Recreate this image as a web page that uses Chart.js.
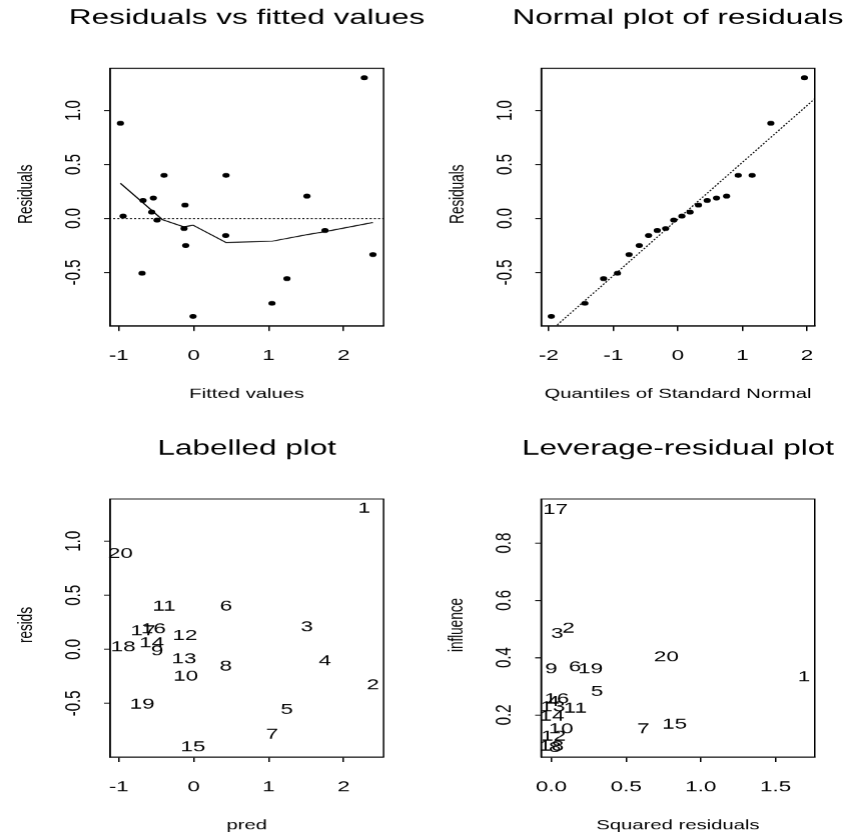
<!DOCTYPE html>
<html>
<head>
<meta charset="utf-8">
<script src="https://cdn.jsdelivr.net/npm/chart.js@4.4.1/dist/chart.umd.min.js"></script>
<style>
html,body{margin:0;padding:0;background:#fff;}
#wrap{position:relative;width:845px;height:836px;overflow:hidden;background:#fff;}
#wrap canvas{position:absolute;left:0;top:0;}
</style>
</head>
<body>
<div id="wrap">
<canvas id="c1" width="563" height="836" style="width:845px;height:836px"></canvas>
<canvas id="c2" width="563" height="836" style="width:845px;height:836px"></canvas>
<canvas id="c3" width="563" height="836" style="width:845px;height:836px"></canvas>
<canvas id="c4" width="563" height="836" style="width:845px;height:836px"></canvas>
</div>
<script>
// ---------------- data ----------------
const obsLabels = ['1','2','3','4','5','6','7','8','9','10','11','12','13','14','15','16','17','18','19','20'];
const fittedValues = [2.276, 2.391, 1.511, 1.751, 1.244, 0.431, 1.044, 0.427, -0.489, -0.107, -0.396, -0.116, -0.129, -0.560, -0.009, -0.538, -0.676, -0.942, -0.689, -0.978];
const residuals = [1.303, -0.334, 0.207, -0.111, -0.557, 0.399, -0.786, -0.158, -0.015, -0.251, 0.399, 0.124, -0.093, 0.059, -0.907, 0.189, 0.167, 0.022, -0.508, 0.882];
const lowessX = [-0.978, -0.676, -0.420, -0.129, -0.009, 0.431, 1.044, 1.511, 1.751, 2.391];
const lowessY = [0.325, 0.145, -0.010, -0.078, -0.062, -0.223, -0.211, -0.150, -0.122, -0.037];
const refLineX = [-1.3, 2.7];
const refLineY = [0, 0];
const normalQuantiles = [-1.960, -1.440, -1.150, -0.935, -0.755, -0.598, -0.454, -0.319, -0.189, -0.063, 0.063, 0.189, 0.319, 0.454, 0.598, 0.755, 0.935, 1.150, 1.440, 1.960];
const sortedResiduals = [-0.907, -0.786, -0.557, -0.508, -0.334, -0.251, -0.158, -0.111, -0.093, -0.015, 0.022, 0.059, 0.124, 0.167, 0.189, 0.207, 0.399, 0.399, 0.882, 1.303];
const qqLineX = [-2.3, 2.3];
const qqLineY = [-1.213, 1.203];
const squaredResiduals = [1.690, 0.115, 0.040, 0.012, 0.305, 0.158, 0.615, 0.025, 0.000, 0.065, 0.160, 0.015, 0.009, 0.004, 0.825, 0.036, 0.028, 0.001, 0.262, 0.770];
const influence = [0.332, 0.501, 0.483, 0.245, 0.280, 0.367, 0.150, 0.085, 0.360, 0.150, 0.222, 0.125, 0.228, 0.195, 0.167, 0.255, 0.917, 0.090, 0.360, 0.401];

const ticksResX = [-1, 0, 1, 2];
const tickLabelsResX = ['-1', '0', '1', '2'];
const ticksResY = [-0.5, 0, 0.5, 1.0];
const tickLabelsResY = ['-0.5', '0.0', '0.5', '1.0'];
const ticksQqX = [-2, -1, 0, 1, 2];
const tickLabelsQqX = ['-2', '-1', '0', '1', '2'];
const ticksLevX = [0, 0.5, 1.0, 1.5];
const tickLabelsLevX = ['0.0', '0.5', '1.0', '1.5'];
const ticksLevY = [0.2, 0.4, 0.6, 0.8];
const tickLabelsLevY = ['0.2', '0.4', '0.6', '0.8'];

const titles = ['Residuals vs fitted values', 'Normal plot of residuals', 'Labelled plot', 'Leverage-residual plot'];
const xTitles = ['Fitted values', 'Quantiles of Standard Normal', 'pred', 'Squared residuals'];
const yTitles = ['Residuals', 'Residuals', 'resids', 'influence'];

// ---------------- helpers ----------------
const FONT = '"Liberation Sans", Arial, Helvetica, sans-serif';
const CW = 563, CH = 836;

function pts(xs, ys) { return xs.map((x, i) => ({x: x, y: ys[i]})); }

function axis(min, max, vals, isX) {
  return {
    type: 'linear', min: min, max: max, bounds: 'data',
    afterBuildTicks: s => { s.ticks = vals.map(v => ({value: v})); },
    afterFit: s => { if (isX) s.height = 5; else s.width = 4; },
    ticks: {display: false},
    grid: {display: true, drawOnChartArea: false, drawTicks: true, tickLength: isX ? 5 : 4, color: '#000', lineWidth: 1},
    border: {display: true, color: '#000', width: 1}
  };
}

function panel(id, box, xr, yr, xt, xl, yt, yl, idx, datasets, textLabels) {
  const deco = {
    id: 'deco' + id,
    afterDatasetsDraw(chart) {
      if (!textLabels) return;
      const ctx = chart.ctx;
      const meta = chart.getDatasetMeta(textLabels.dataset);
      ctx.save();
      ctx.fillStyle = '#000';
      ctx.font = '15px ' + FONT;
      ctx.textAlign = 'center';
      ctx.textBaseline = 'middle';
      meta.data.forEach((el, i) => { ctx.fillText(textLabels.labels[i], el.x, el.y); });
      ctx.restore();
    },
    afterDraw(chart) {
      const ctx = chart.ctx, a = chart.chartArea;
      const xs = chart.scales.x, ys = chart.scales.y;
      ctx.save();
      ctx.strokeStyle = '#000'; ctx.lineWidth = 1;
      ctx.strokeRect(a.left, a.top, a.right - a.left, a.bottom - a.top);
      ctx.fillStyle = '#000';
      ctx.font = '15px ' + FONT;
      ctx.textAlign = 'center'; ctx.textBaseline = 'alphabetic';
      xt.forEach((v, i) => ctx.fillText(xl[i], xs.getPixelForValue(v), a.bottom + 34));
      yt.forEach((v, i) => {
        ctx.save();
        ctx.translate(a.left - 20, ys.getPixelForValue(v));
        ctx.rotate(-Math.PI / 2);
        ctx.fillText(yl[i], 0, 0);
        ctx.restore();
      });
      ctx.font = '21px ' + FONT;
      ctx.fillText(titles[idx], (a.left + a.right) / 2, a.top - 44.3);
      ctx.font = '13.5px ' + FONT;
      ctx.fillText(xTitles[idx], (a.left + a.right) / 2, a.bottom + 72);
      ctx.save();
      ctx.translate(a.left - 52, (a.top + a.bottom) / 2 - 3);
      ctx.rotate(-Math.PI / 2);
      ctx.fillText(yTitles[idx], 0, 0);
      ctx.restore();
      ctx.restore();
    }
  };
  return new Chart(document.getElementById(id), {
    type: 'scatter',
    data: {datasets: datasets},
    options: {
      responsive: false, animation: false, devicePixelRatio: 1.5, events: [],
      layout: {autoPadding: false, padding: {left: box.L - 4, right: CW - box.R, top: box.T, bottom: CH - box.B - 5}},
      plugins: {legend: {display: false}, tooltip: {enabled: false}},
      scales: {x: axis(xr[0], xr[1], xt, true), y: axis(yr[0], yr[1], yt, false)}
    },
    plugins: [deco]
  });
}

const dotStyle = {pointRadius: 2.4, pointBackgroundColor: '#000', pointBorderWidth: 0, showLine: false};
const lineStyle = {showLine: true, pointRadius: 0, borderColor: '#000', borderWidth: 1, clip: 0};

// Panel 1: residuals vs fitted
panel('c1', {L: 73.3, R: 255.4, T: 68.3, B: 326}, [-1.116, 2.533], [-0.996, 1.391],
  ticksResX, tickLabelsResX, ticksResY, tickLabelsResY, 0, [
    Object.assign({data: pts(refLineX, refLineY), borderDash: [1.4, 1.4]}, lineStyle),
    Object.assign({data: pts(lowessX, lowessY)}, lineStyle),
    Object.assign({data: pts(fittedValues, residuals)}, dotStyle)
  ]);

// Panel 2: normal plot
panel('c2', {L: 360.4, R: 542.5, T: 68.3, B: 326}, [-2.115, 2.12], [-0.996, 1.391],
  ticksQqX, tickLabelsQqX, ticksResY, tickLabelsResY, 1, [
    Object.assign({data: pts(qqLineX, qqLineY), borderDash: [1.4, 1.4]}, lineStyle),
    Object.assign({data: pts(normalQuantiles, sortedResiduals)}, dotStyle)
  ]);

// Panel 3: labelled plot
panel('c3', {L: 73.3, R: 255.4, T: 499, B: 757}, [-1.116, 2.533], [-0.996, 1.391],
  ticksResX, tickLabelsResX, ticksResY, tickLabelsResY, 2, [
    {data: pts(fittedValues, residuals), pointRadius: 0, showLine: false, clip: false}
  ], {dataset: 0, labels: obsLabels});

// Panel 4: leverage-residual plot
panel('c4', {L: 360.3, R: 542.5, T: 499, B: 757}, [-0.068, 1.762], [0.053, 0.954],
  ticksLevX, tickLabelsLevX, ticksLevY, tickLabelsLevY, 3, [
    {data: pts(squaredResiduals, influence), pointRadius: 0, showLine: false, clip: false}
  ], {dataset: 0, labels: obsLabels});
</script>
</body>
</html>
